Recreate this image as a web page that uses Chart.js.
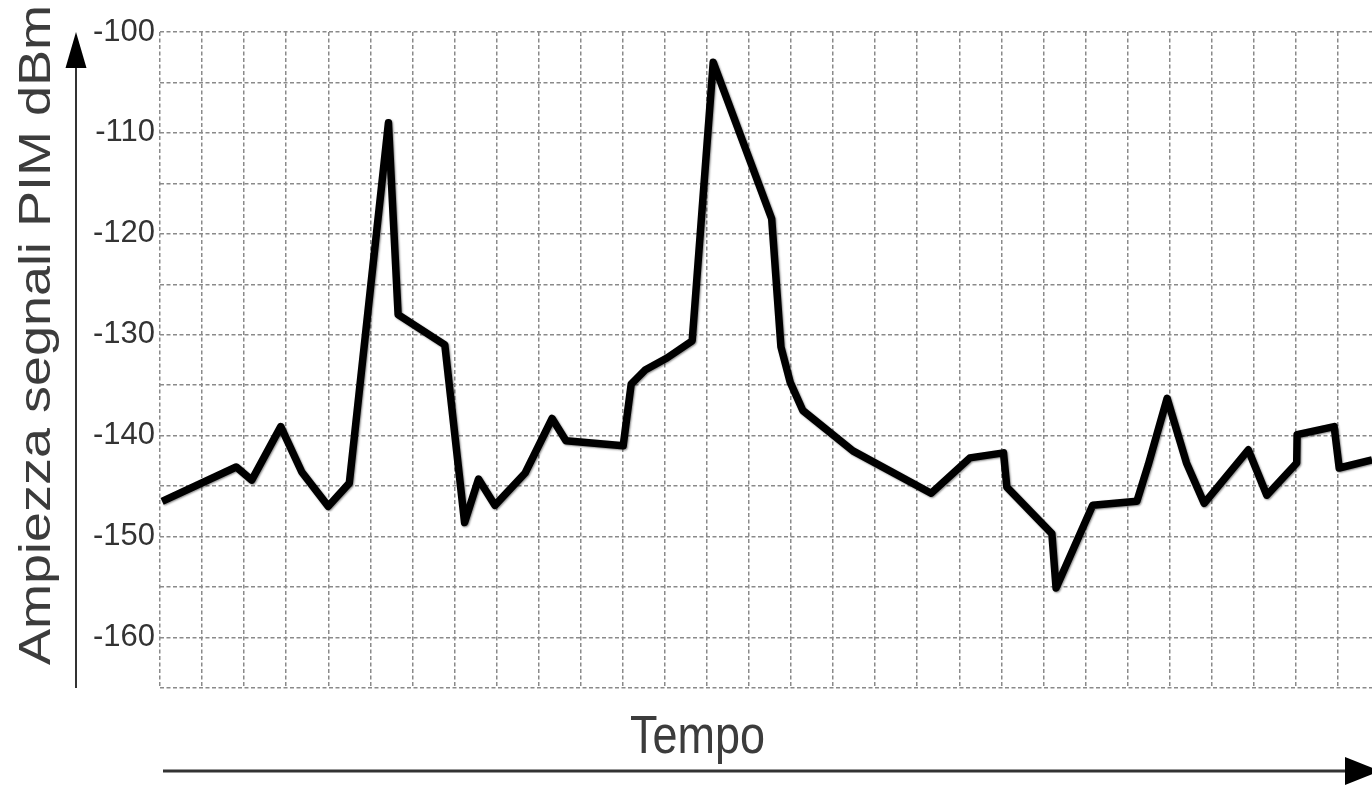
<!DOCTYPE html>
<html>
<head>
<meta charset="utf-8">
<script src="https://cdn.jsdelivr.net/npm/chart.js@4.4.1/dist/chart.umd.min.js"></script>
<style>
  html, body { margin: 0; padding: 0; background: #ffffff; overflow: hidden; }
  #wrap { position: relative; width: 1372px; height: 787px; }
</style>
</head>
<body>
<div id="wrap"><canvas id="c"></canvas></div>
<script>
// ---- data (time in grid units, amplitude in dBm) ----
const timeValues = [0.05, 1.81, 2.18, 2.87, 3.37, 4.00, 4.50, 5.43, 5.66, 6.77,
  7.24, 7.57, 7.96, 8.68, 9.32, 9.65, 11.01, 11.20, 11.53, 12.05,
  12.65, 13.15, 14.54, 14.76, 14.98, 15.28, 16.47, 18.33, 19.25, 20.05,
  20.13, 21.20, 21.30, 22.17, 23.22, 23.49, 23.94, 24.40, 24.82, 25.87,
  26.31, 27.02, 27.03, 27.91, 28.03, 28.81];
const pimValues = [-146.5, -143.1, -144.4, -139.1, -143.6, -147.0, -144.7, -109.0, -128.0, -131.0,
  -148.6, -144.3, -146.9, -143.7, -138.3, -140.5, -141.0, -134.9, -133.5, -132.3,
  -130.6, -103.0, -118.5, -131.2, -134.7, -137.5, -141.5, -145.7, -142.2, -141.7,
  -145.1, -149.7, -155.1, -146.9, -146.5, -142.9, -136.3, -142.7, -146.7, -141.4,
  -145.9, -142.7, -139.9, -139.1, -143.2, -142.4];
const yTickLabels = ['-100', '-110', '-120', '-130', '-140', '-150', '-160'];
const yTitle = 'Ampiezza segnali PIM dBm';
const xTitle = 'Tempo';

const points = timeValues.map((t, i) => ({ x: t, y: pimValues[i] }));

const decorPlugin = {
  id: 'decor',
  beforeDatasetsDraw(chart) {
    const ctx = chart.ctx;
    ctx.save();
    ctx.shadowColor = 'rgba(0,0,0,0.45)';
    ctx.shadowBlur = 2;
    ctx.shadowOffsetX = 1;
    ctx.shadowOffsetY = 1;
  },
  afterDatasetsDraw(chart) {
    chart.ctx.restore();
  },
  afterDraw(chart) {
    const ctx = chart.ctx;
    const a = chart.chartArea;
    ctx.save();
    // vertical arrow
    ctx.strokeStyle = '#333';
    ctx.lineWidth = 2;
    ctx.beginPath();
    ctx.moveTo(76, a.bottom);
    ctx.lineTo(76, 60);
    ctx.stroke();
    ctx.fillStyle = '#000';
    ctx.beginPath();
    ctx.moveTo(76, 32);
    ctx.lineTo(86.5, 68);
    ctx.lineTo(65.5, 68);
    ctx.closePath();
    ctx.fill();
    // horizontal arrow
    ctx.strokeStyle = '#333';
    ctx.lineWidth = 3;
    ctx.beginPath();
    ctx.moveTo(163, 771);
    ctx.lineTo(1350, 771);
    ctx.stroke();
    ctx.fillStyle = '#000';
    ctx.beginPath();
    ctx.moveTo(1345, 757);
    ctx.lineTo(1380, 771);
    ctx.lineTo(1345, 785);
    ctx.closePath();
    ctx.fill();

    // y title
    ctx.fillStyle = '#3c3c3c';
    ctx.font = '45px "Liberation Sans", Arial, sans-serif';
    ctx.textAlign = 'center';
    ctx.textBaseline = 'alphabetic';
    let w = ctx.measureText(yTitle).width;
    ctx.save();
    ctx.translate(50, 335);
    ctx.rotate(-Math.PI / 2);
    ctx.scale(660 / w, 1);
    ctx.fillText(yTitle, 0, 0);
    ctx.restore();
    // x title
    ctx.font = '53px "Liberation Sans", Arial, sans-serif';
    w = ctx.measureText(xTitle).width;
    ctx.save();
    ctx.translate(697.5, 753);
    ctx.scale(135 / w, 1);
    ctx.fillText(xTitle, 0, 0);
    ctx.restore();
    ctx.restore();
  }
};

const gridStyle = {
  color: '#8a8a8a',
  lineWidth: 1.5,
  drawTicks: false
};

new Chart(document.getElementById('c'), {
  type: 'line',
  data: {
    datasets: [{
      data: points,
      borderColor: '#000000',
      borderWidth: 7.5,
      borderJoinStyle: 'round',
      borderCapStyle: 'butt',
      pointRadius: 0,
      pointHoverRadius: 0,
      tension: 0,
      fill: false
    }]
  },
  options: {
    responsive: true,
    maintainAspectRatio: false,
    animation: false,
    events: [],
    layout: { padding: { top: 32, right: 0, bottom: 99, left: 0 } },
    plugins: { legend: { display: false }, tooltip: { enabled: false } },
    scales: {
      x: {
        type: 'linear',
        min: 0,
        max: 28.81,
        grid: gridStyle,
        border: { display: false, dash: [4, 2.5] },
        ticks: { display: false, stepSize: 1, includeBounds: false },
        afterFit(s) { s.height = 0; }
      },
      y: {
        type: 'linear',
        min: -165,
        max: -100,
        grid: gridStyle,
        border: { display: false, dash: [4, 2.5] },
        ticks: {
          stepSize: 5,
          includeBounds: false,
          padding: 5,
          color: '#333333',
          font: { family: '"Liberation Sans", Arial, sans-serif', size: 31 },
          callback(v) {
            const s = String(v);
            return yTickLabels.includes(s) ? s : '';
          }
        },
        afterFit(s) { s.width = 160; }
      }
    }
  },
  plugins: [decorPlugin]
});
</script>
</body>
</html>
